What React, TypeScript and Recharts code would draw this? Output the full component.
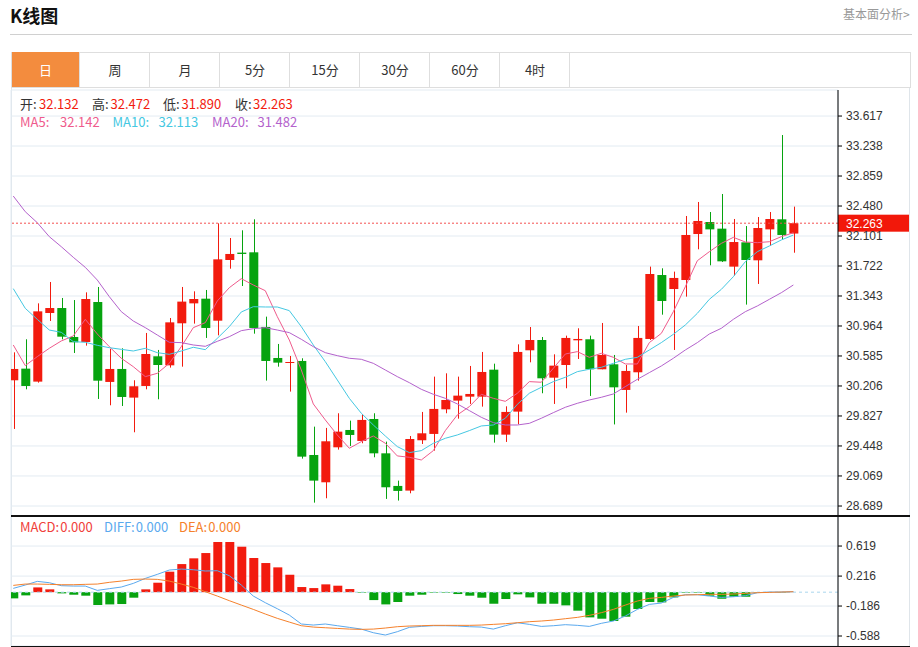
import {
  ComposedChart,
  Bar,
  Line,
  XAxis,
  YAxis,
  CartesianGrid,
  ReferenceLine,
  Cell,
} from 'recharts'

// daily candles, oldest first
const opens = [
  30.278, 30.425, 30.261, 31.128, 31.191, 30.825, 30.762, 31.267, 30.257, 30.421,
  30.059, 30.206, 30.581, 30.467, 30.998, 31.25, 31.309, 31.031, 31.798, 31.891,
  31.895, 30.952, 30.56, 30.497, 30.522, 29.334, 28.989, 29.431, 29.65, 29.511,
  29.789, 29.355, 28.943, 28.884, 29.52, 29.6, 29.911, 30.021, 30.071, 30.071,
  30.412, 29.591, 29.882, 30.657, 30.787, 30.311, 30.471, 30.783, 30.796, 30.417,
  30.48, 30.156, 30.379, 30.8, 31.608, 31.431, 31.545, 32.126, 32.278, 32.194,
  31.714, 32.021, 31.794, 32.185, 32.312, 32.132,
]
const highs = [
  30.631, 30.796, 31.25, 31.52, 31.318, 31.292, 31.389, 31.457, 30.674, 30.682,
  30.278, 30.876, 30.661, 31.065, 31.457, 31.402, 31.419, 32.261, 32.076, 32.173,
  32.312, 31.082, 30.737, 30.585, 30.556, 29.692, 29.676, 29.861, 29.768, 29.852,
  29.861, 29.503, 29.01, 29.574, 29.878, 30.324, 30.366, 30.324, 30.459, 30.636,
  30.488, 29.949, 30.732, 30.951, 30.825, 30.606, 30.842, 30.935, 30.842, 31.002,
  30.598, 30.471, 30.964, 31.714, 31.693, 31.651, 32.354, 32.531, 32.404, 32.632,
  32.316, 32.227, 32.341, 32.404, 33.377, 32.472,
]
const lows = [
  29.663, 30.164, 30.248, 31.027, 30.796, 30.623, 30.716, 30.042, 29.962, 29.953,
  29.621, 30.164, 30.038, 30.438, 30.45, 30.994, 30.813, 30.846, 31.688, 31.469,
  30.867, 30.274, 30.45, 30.135, 29.288, 28.732, 28.787, 29.402, 29.448, 29.482,
  29.305, 28.779, 28.758, 28.85, 29.473, 29.389, 29.861, 29.793, 29.979, 29.945,
  29.49, 29.499, 29.722, 30.505, 30.114, 29.979, 30.177, 30.547, 30.08, 30.417,
  29.72, 29.869, 30.273, 30.787, 31.107, 30.661, 31.335, 31.933, 31.731, 31.773,
  31.6, 31.234, 31.495, 31.975, 32.051, 31.89,
]
const closes = [
  30.421, 30.206, 31.149, 31.191, 30.829, 30.758, 31.305, 30.273, 30.421, 30.067,
  30.202, 30.61, 30.471, 31.01, 31.272, 31.305, 30.939, 31.806, 31.874, 31.874,
  30.939, 30.522, 30.501, 30.509, 29.313, 29.01, 29.507, 29.629, 29.587, 29.777,
  29.355, 28.926, 28.88, 29.536, 29.608, 29.916, 30.029, 30.084, 30.105, 30.383,
  29.591, 29.878, 30.636, 30.787, 30.303, 30.463, 30.813, 30.8, 30.417, 30.598,
  30.189, 30.396, 30.813, 31.621, 31.28, 31.571, 32.114, 32.291, 32.185, 31.781,
  32.025, 31.798, 32.202, 32.316, 32.114, 32.263,
]

const ma5 = [
  30.724, 30.463, 30.577, 30.682, 30.775, 30.838, 31.048, 30.863, 30.703, 30.556,
  30.45, 30.324, 30.366, 30.492, 30.703, 30.943, 31.006, 31.28, 31.448, 31.562,
  31.482, 31.41, 31.082, 30.787, 30.408, 29.979, 29.777, 29.587, 29.419, 29.503,
  29.574, 29.482, 29.322, 29.305, 29.271, 29.389, 29.642, 29.84, 29.945, 30.101,
  30.05, 30.012, 30.114, 30.261, 30.253, 30.429, 30.61, 30.64, 30.568, 30.619,
  30.568, 30.484, 30.484, 30.754, 30.871, 31.145, 31.461, 31.789, 31.903, 32.008,
  32.084, 32.025, 32.017, 32.029, 32.093, 32.142,
]
const ma10 = [
  31.436, 31.187, 31.048, 30.913, 30.884, 30.766, 30.758, 30.72, 30.69, 30.669,
  30.648, 30.682, 30.627, 30.606, 30.648, 30.695, 30.665, 30.808, 30.956, 31.141,
  31.208, 31.204, 31.204, 31.158, 30.956, 30.724, 30.513, 30.282, 30.05, 29.861,
  29.713, 29.574, 29.44, 29.364, 29.389, 29.482, 29.545, 29.587, 29.642, 29.701,
  29.713, 29.798, 29.974, 30.114, 30.189, 30.261, 30.316, 30.387, 30.417, 30.442,
  30.492, 30.543, 30.568, 30.661, 30.754, 30.859, 30.977, 31.124, 31.301, 31.427,
  31.587, 31.777, 31.903, 31.975, 32.051, 32.113,
]
const ma20 = [
  32.606, 32.408, 32.269, 32.093, 31.966, 31.832, 31.705, 31.545, 31.335, 31.145,
  31.027, 30.943, 30.85, 30.758, 30.754, 30.724, 30.707, 30.77, 30.829, 30.905,
  30.93, 30.943, 30.913, 30.88, 30.796, 30.703, 30.627, 30.589, 30.556, 30.543,
  30.492, 30.408, 30.324, 30.248, 30.164, 30.101, 30.05, 29.979, 29.895, 29.81,
  29.743, 29.713, 29.713, 29.734, 29.798, 29.869, 29.937, 29.987, 30.029, 30.063,
  30.105, 30.198, 30.29, 30.375, 30.459, 30.556, 30.661, 30.754, 30.863, 30.935,
  31.048, 31.145, 31.217, 31.301, 31.385, 31.482,
]

const macdHist = [
  -0.083, -0.043, 0.064, 0.038, -0.016, -0.034, -0.047, -0.172, -0.164, -0.159,
  -0.074, 0.038, 0.127, 0.275, 0.377, 0.454, 0.525, 0.673, 0.673, 0.61,
  0.458, 0.391, 0.333, 0.234, 0.069, 0.055, 0.105, 0.087, 0.042, -0.007,
  -0.106, -0.164, -0.132, -0.047, -0.034, -0.007, -0.007, -0.025, -0.047, -0.074,
  -0.155, -0.092, -0.029, -0.07, -0.155, -0.155, -0.177, -0.248, -0.338, -0.356,
  -0.387, -0.329, -0.226, -0.132, -0.137, -0.07, -0.007, -0.007, -0.047, -0.088,
  -0.061, -0.061, -0.005, 0, -0.005, 0,
]
const diffLine = [
  0.051, 0.096, 0.145, 0.127, 0.087, 0.082, 0.082, 0.024, 0.047, 0.069,
  0.118, 0.185, 0.239, 0.297, 0.31, 0.301, 0.284, 0.288, 0.221, 0.096,
  -0.052, -0.141, -0.222, -0.307, -0.427, -0.441, -0.427, -0.45, -0.472, -0.495,
  -0.544, -0.575, -0.53, -0.472, -0.459, -0.45, -0.45, -0.454, -0.463, -0.468,
  -0.495, -0.45, -0.41, -0.432, -0.459, -0.45, -0.436, -0.445, -0.459, -0.418,
  -0.387, -0.32, -0.231, -0.164, -0.146, -0.07, -0.034, -0.034, -0.052, -0.07,
  -0.061, -0.047, -0.007, 0.002, 0.002, 0.006,
]
const deaLine = [
  0.091, 0.109, 0.109, 0.105, 0.1, 0.1, 0.105, 0.109, 0.132, 0.149,
  0.172, 0.176, 0.172, 0.149, 0.109, 0.065, 0.006, -0.052, -0.114, -0.173,
  -0.231, -0.293, -0.351, -0.401, -0.45, -0.468, -0.477, -0.486, -0.495, -0.499,
  -0.495, -0.481, -0.463, -0.454, -0.45, -0.445, -0.445, -0.445, -0.445, -0.441,
  -0.432, -0.423, -0.41, -0.396, -0.387, -0.374, -0.356, -0.338, -0.311, -0.275,
  -0.231, -0.173, -0.119, -0.083, -0.07, -0.052, -0.038, -0.034, -0.029, -0.029,
  -0.025, -0.016, -0.007, -0.003, 0.002, 0.006,
]

const priceTicks = [
  '33.617', '33.238', '32.859', '32.480', '32.101', '31.722', '31.343',
  '30.964', '30.585', '30.206', '29.827', '29.448', '29.069', '28.689',
]
const macdTicks = ['0.619', '0.216', '-0.186', '-0.588']
// candle index where the month grid lines fall
const monthTicks = [12, 55]
const tabs = ['日', '周', '月', '5分', '15分', '30分', '60分', '4时']

const RED = '#f21b0e'
const GREEN = '#06a30f'
const GRID = '#e3ebf2'
const C_MA5 = '#ef5b8c'
const C_MA10 = '#45c8e2'
const C_MA20 = '#b462cc'
const C_DIFF = '#5aa9ee'
const C_DEA = '#f5812c'
const CN = '"Microsoft YaHei","Noto Sans CJK SC",sans-serif'
const AX = 'Arial,"Liberation Sans",sans-serif'

const X_DOMAIN: [number, number] = [-0.19, 68.72]
const PRICE_DOMAIN: [number, number] = [28.563, 33.946]
const MACD_DOMAIN: [number, number] = [-0.722, 1.022]

const lastClose = closes[closes.length - 1]

const data = opens.map((o, i) => ({
  i,
  open: o,
  high: highs[i],
  low: lows[i],
  close: closes[i],
  range: [lows[i], highs[i]],
  ma5: ma5[i],
  ma10: ma10[i],
  ma20: ma20[i],
  macd: macdHist[i],
  diff: diffLine[i],
  dea: deaLine[i],
}))

function Candle(props: any) {
  const { x, y, width, height, payload } = props
  if (x == null || y == null || !payload) return null
  const { open, close, high, low } = payload
  const top = Math.min(y, y + height)
  const h = Math.abs(height)
  const color = close >= open ? RED : GREEN
  const ppu = high > low ? h / (high - low) : 0
  const bTop = top + (high - Math.max(open, close)) * ppu
  const bBot = top + (high - Math.min(open, close)) * ppu
  const cx = Math.round(x + width / 2) + 0.5
  return (
    <g>
      <line x1={cx} x2={cx} y1={top} y2={top + h} stroke={color} strokeWidth={1} />
      <rect x={x} y={bTop} width={width} height={Math.max(1, bBot - bTop)} fill={color} />
    </g>
  )
}

function PriceTag(props: any) {
  const vb = props.viewBox
  if (!vb) return null
  const left = vb.x + vb.width
  return (
    <g>
      <rect x={left} y={vb.y - 8.5} width={71} height={17} fill="#f2180a" />
      <text x={left + 8} y={vb.y + 4.5} fill="#fff" fontSize={12} fontFamily={AX}>
        {lastClose.toFixed(3)}
      </text>
    </g>
  )
}

function Txt({ x, y, color, size = 13, children }: any) {
  return (
    <span
      style={{
        position: 'absolute',
        left: x,
        top: y - 8,
        lineHeight: '16px',
        fontSize: size,
        color,
        fontFamily: CN,
        whiteSpace: 'nowrap',
      }}
    >
      {children}
    </span>
  )
}

const axisTick = { fill: '#333', fontSize: 12, fontFamily: AX }

export default function App() {
  return (
    <div
      style={{
        position: 'absolute',
        left: 0,
        top: 0,
        width: 918,
        height: 647,
        background: '#fff',
        overflow: 'hidden',
      }}
    >
      {/* header */}
      <div style={{ position: 'absolute', left: 10, top: 3, fontSize: 18, fontWeight: 'bold', fontFamily: CN, color: '#111', lineHeight: '24px' }}>
        K线图
      </div>
      <div style={{ position: 'absolute', left: 843, top: 6, fontSize: 12, fontFamily: CN, color: '#999', lineHeight: '16px' }}>
        基本面分析&gt;
      </div>
      <div style={{ position: 'absolute', left: 10, top: 34, width: 902, height: 1, background: '#d0d0d0' }} />

      {/* period tabs */}
      <div style={{ position: 'absolute', left: 11, top: 52, width: 899, height: 34, border: '1px solid #dedede', borderLeft: 'none' }} />
      {tabs.map((t, i) => (
        <div
          key={t}
          style={{
            position: 'absolute',
            left: 11 + i * 70,
            top: 52,
            width: 69,
            height: 35,
            borderRight: '1px solid #dedede',
            borderLeft: i === 0 ? '1px solid #dedede' : 'none',
            background: i === 0 ? '#f38c3e' : 'transparent',
            color: i === 0 ? '#fff' : '#333',
            fontSize: 13,
            fontFamily: CN,
            lineHeight: '35px',
            textAlign: 'center',
            boxSizing: 'border-box',
          }}
        >
          {t}
        </div>
      ))}

      {/* frame lines */}
      <div style={{ position: 'absolute', left: 11, top: 88, width: 1, height: 558, background: '#dfe5ea' }} />
      <div style={{ position: 'absolute', left: 909, top: 88, width: 1, height: 558, background: '#dfe5ea' }} />

      {/* price panel */}
      <div style={{ position: 'absolute', left: 0, top: 0 }}>
        <ComposedChart width={918} height={516} data={data} margin={{ top: 90, right: 9, bottom: 0, left: 11 }}>
          <CartesianGrid stroke={GRID} horizontal vertical />
          <XAxis
            type="number"
            dataKey="i"
            domain={X_DOMAIN}
            allowDataOverflow
            ticks={monthTicks}
            height={0}
            tick={false}
            axisLine={false}
            tickLine={false}
          />
          <YAxis
            orientation="right"
            type="number"
            domain={PRICE_DOMAIN}
            allowDataOverflow
            ticks={priceTicks.map(Number)}
            tickFormatter={(v: number) => v.toFixed(3)}
            width={71}
            stroke="#000"
            tick={axisTick}
            tickSize={4}
            tickMargin={4}
            interval={0}
          />
          <Bar dataKey="range" barSize={9} shape={<Candle />} isAnimationActive={false} />
          <Line dataKey="ma5" stroke={C_MA5} strokeWidth={1} dot={false} isAnimationActive={false} />
          <Line dataKey="ma10" stroke={C_MA10} strokeWidth={1} dot={false} isAnimationActive={false} />
          <Line dataKey="ma20" stroke={C_MA20} strokeWidth={1} dot={false} isAnimationActive={false} />
          <ReferenceLine y={lastClose} stroke="#f45050" strokeDasharray="2 2" label={<PriceTag />} />
        </ComposedChart>
      </div>

      {/* MACD panel */}
      <div style={{ position: 'absolute', left: 0, top: 516 }}>
        <ComposedChart width={918} height={131} data={data} margin={{ top: 0, right: 9, bottom: 1, left: 11 }}>
          <CartesianGrid stroke={GRID} horizontal vertical />
          <XAxis
            type="number"
            dataKey="i"
            domain={X_DOMAIN}
            allowDataOverflow
            ticks={monthTicks}
            height={0}
            tick={false}
            axisLine={false}
            tickLine={false}
          />
          <YAxis
            orientation="right"
            type="number"
            domain={MACD_DOMAIN}
            allowDataOverflow
            ticks={macdTicks.map(Number)}
            tickFormatter={(v: number) => v.toFixed(3)}
            width={71}
            stroke="#000"
            tick={axisTick}
            tickSize={4}
            tickMargin={4}
            interval={0}
          />
          <ReferenceLine y={0} stroke="#a9d6ee" strokeDasharray="3 3" />
          <Bar dataKey="macd" barSize={9} isAnimationActive={false}>
            {data.map((d) => (
              <Cell key={d.i} fill={d.macd >= 0 ? RED : GREEN} />
            ))}
          </Bar>
          <Line dataKey="diff" stroke={C_DIFF} strokeWidth={1} dot={false} isAnimationActive={false} />
          <Line dataKey="dea" stroke={C_DEA} strokeWidth={1} dot={false} isAnimationActive={false} />
        </ComposedChart>
      </div>

      {/* panel separators */}
      <div style={{ position: 'absolute', left: 11, top: 515, width: 899, height: 1.5, background: '#111' }} />
      <div style={{ position: 'absolute', left: 11, top: 645.5, width: 899, height: 1.5, background: '#111' }} />

      {/* legends */}
      <Txt x={20} y={104} color="#333">开:</Txt>
      <Txt x={39} y={104} color={RED}>{opens[65].toFixed(3)}</Txt>
      <Txt x={92} y={104} color="#333">高:</Txt>
      <Txt x={110.5} y={104} color={RED}>{highs[65].toFixed(3)}</Txt>
      <Txt x={163} y={104} color="#333">低:</Txt>
      <Txt x={181.5} y={104} color={RED}>{lows[65].toFixed(3)}</Txt>
      <Txt x={235} y={104} color="#333">收:</Txt>
      <Txt x={253} y={104} color={RED}>{closes[65].toFixed(3)}</Txt>

      <Txt x={20} y={122} color={C_MA5}>MA5:</Txt>
      <Txt x={60} y={122} color={C_MA5}>{ma5[65].toFixed(3)}</Txt>
      <Txt x={112.5} y={122} color={C_MA10}>MA10:</Txt>
      <Txt x={158.5} y={122} color={C_MA10}>{ma10[65].toFixed(3)}</Txt>
      <Txt x={212} y={122} color={C_MA20}>MA20:</Txt>
      <Txt x={257.5} y={122} color={C_MA20}>{ma20[65].toFixed(3)}</Txt>

      <Txt x={20} y={527} color="#f0403a">MACD:<span style={{ marginLeft: 1 }}>0.000</span></Txt>
      <Txt x={104} y={527} color={C_DIFF}>DIFF:<span style={{ marginLeft: 1 }}>0.000</span></Txt>
      <Txt x={179} y={527} color={C_DEA}>DEA:<span style={{ marginLeft: 1 }}>0.000</span></Txt>
    </div>
  )
}
